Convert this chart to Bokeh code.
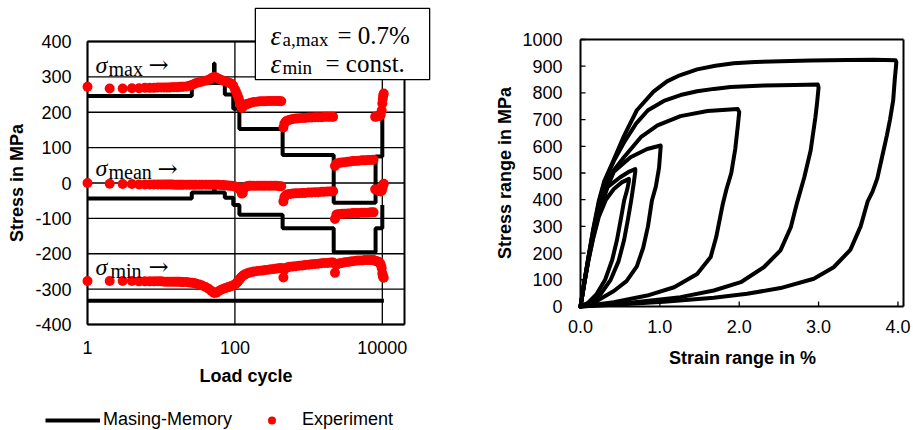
import math
from bokeh.plotting import figure
from bokeh.models import Label, Legend, LegendItem, LinearScale, Range1d
from bokeh.embed import file_html
from bokeh.resources import INLINE

# ---------------- Left chart data ----------------
x_lo, x_hi = 1, 20000          # axis limits (load cycle, log)
y_lo, y_hi = -400, 400         # axis limits (stress)
x_ticks_left = [1, 100, 10000]
x_tick_labels = ["1", "100", "10000"]
y_ticks_left = [-400, -300, -200, -100, 0, 100, 200, 300, 400]
y_tick_labels = ["-400", "-300", "-200", "-100", "0", "100", "200", "300", "400"]

mm_max_cycles = [1, 26, 52, 53, 73, 95, 115, 444, 2190, 8100, 10000]
mm_max_stress = [246, 283, 338, 283, 250, 210, 153, 79, -56, 75, 209]
mm_mean_cycles = [1, 26, 52, 53, 73, 95, 115, 444, 2190, 8100, 10000]
mm_mean_stress = [-44, -27, 0, -27, -42, -62, -90, -128, -196, -128, -62]
mm_min_cycles = [1, 10500]
mm_min_stress = [-333, -333]

exp_cycles = [1, 2, 3, 4, 5, 6, 7, 8, 9, 10,
              11, 12, 13, 14, 15, 16, 17, 18, 19, 20,
              22, 24, 26, 28, 30, 33, 36, 40, 44, 48,
              52, 56, 60, 65, 70, 75, 80, 85, 90, 95,
              100, 104, 108, 112, 116, 120, 124, 128, 135, 145,
              155, 165, 180, 200, 220, 240, 260, 285, 310, 340,
              370, 400, 425, 455, 470, 490, 520, 560, 610, 670,
              740, 820, 900, 1000, 1100, 1220, 1350, 1500, 1650, 1820,
              2000, 2150, 2280, 2380, 2500, 2650, 2850, 3100, 3400, 3700,
              4000, 4400, 4800, 5300, 5800, 6400, 7000, 7600, 8000, 8300,
              8600, 8900, 9200, 9500, 9800, 10000, 10150, 10300, 10450]

exp_max = [272, 267, 267, 268, 268, 269, 269, 269, 270, 270,
           270, 270, 270, 271, 271, 271, 271, 272, 272, 272,
           273, 275, 277, 280, 283, 285, 287, 289, 292, 296,
           300, 298, 295, 291, 289, 287, 285, 283, 280, 275,
           265, 257, 249, 240, 230, 220, 212, 215, 219, 223,
           225, 227, 229, 230, 231, 231, 231, 232, 232, 232,
           232, 232, 231, 157, 168, 174, 177, 179, 181, 182,
           183, 184, 184, 185, 185, 186, 186, 186, 187, 187,
           187, 187, 48, 54, 56, 57, 58, 59, 60, 61,
           62, 62, 63, 64, 64, 65, 65, 66, 187, 188,
           189, 190, 190, 192, 205, 225, 238, 248, 253]

exp_mean = [0, -2, -3, -3, -4, -4, -4, -4, -4, -4,
            -4, -4, -4, -4, -5, -5, -5, -5, -5, -5,
            -5, -5, -5, -5, -5, -5, -5, -5, -5, -5,
            -5, -5, -5, -6, -6, -7, -7, -8, -8, -9,
            -10, -11, -12, -14, -16, -22, -30, -28, -14, -9,
            -8, -8, -8, -8, -8, -8, -8, -8, -8, -8,
            -8, -9, -9, -52, -40, -35, -32, -31, -30, -29,
            -29, -28, -28, -27, -27, -26, -26, -25, -25, -24,
            -24, -23, -102, -90, -88, -88, -87, -87, -86, -86,
            -85, -85, -85, -84, -84, -84, -83, -83, -18, -19,
            -20, -21, -22, -24, -22, -16, -10, -5, -2]

exp_min = [-277, -277, -277, -277, -278, -278, -278, -278, -278, -278,
           -279, -279, -279, -279, -279, -279, -279, -279, -280, -280,
           -280, -281, -282, -283, -285, -287, -290, -294, -299, -305,
           -311, -310, -306, -302, -299, -297, -295, -293, -291, -289,
           -287, -284, -280, -276, -272, -268, -265, -262, -259, -256,
           -254, -252, -250, -249, -248, -247, -246, -245, -244, -243,
           -242, -241, -240, -267, -245, -240, -238, -237, -236, -235,
           -234, -233, -232, -231, -230, -229, -228, -227, -226, -226,
           -225, -225, -254, -232, -228, -227, -226, -224, -223, -222,
           -221, -220, -219, -219, -218, -218, -218, -218, -220, -221,
           -222, -223, -225, -230, -240, -255, -262, -266, -268]

# ---------------- Right chart data ----------------
s_lo, s_hi = 0, 4.07           # axis limits (strain range, %)
r_lo, r_hi = 0, 1000           # axis limits (stress range, MPa)
x_ticks_right = [0, 1, 2, 3, 4]
x_tick_labels_right = ["0.0", "1.0", "2.0", "3.0", "4.0"]
y_ticks_right = [0, 100, 200, 300, 400, 500, 600, 700, 800, 900, 1000]
y_tick_labels_right = ["0", "100", "200", "300", "400", "500", "600", "700", "800", "900", "1000"]

loop1_strain = [0, 0.05, 0.10, 0.16, 0.23, 0.32, 0.42, 0.52, 0.61,
                0.61, 0.59, 0.55, 0.51, 0.46, 0.40, 0.31, 0.20, 0.10, 0]
loop1_stress = [0, 90, 172, 255, 335, 400, 440, 465, 478,
                470, 440, 397, 330, 250, 175, 100, 45, 15, 0]

loop2_strain = [0, 0.05, 0.10, 0.16, 0.23, 0.34, 0.50, 0.60, 0.69,
                0.69, 0.67, 0.64, 0.60, 0.55, 0.48, 0.38, 0.25, 0.12, 0]
loop2_stress = [0, 90, 175, 260, 345, 447, 484, 503, 515,
                505, 460, 400, 330, 250, 170, 100, 45, 15, 0]

loop3_strain = [0, 0.05, 0.10, 0.16, 0.23, 0.30, 0.42, 0.63, 0.84, 1.01,
                1.01, 0.99, 0.95, 0.90, 0.85, 0.79, 0.71, 0.58, 0.42, 0.20, 0]
loop3_stress = [0, 92, 178, 270, 360, 420, 505, 559, 590, 603,
                597, 520, 450, 397, 300, 220, 150, 95, 58, 20, 0]

loop4_strain = [0, 0.05, 0.10, 0.16, 0.23, 0.30, 0.42, 0.55, 0.76, 0.97, 1.26, 1.60, 1.98,
                2.00, 1.98, 1.95, 1.90, 1.84, 1.79, 1.75, 1.71, 1.64, 1.47, 1.18, 0.84, 0.42, 0]
loop4_stress = [0, 93, 180, 280, 375, 440, 510, 560, 634, 678, 713, 732, 740,
                728, 670, 590, 500, 440, 380, 320, 260, 185, 122, 72, 41, 16, 0]

loop5_strain = [0, 0.05, 0.10, 0.16, 0.23, 0.30, 0.42, 0.55, 0.70, 0.85, 1.05, 1.26, 1.47,
                1.68, 1.89, 2.31, 2.70, 2.99,
                3.00, 2.98, 2.96, 2.90, 2.82, 2.73, 2.65, 2.52, 2.31, 2.02, 1.68, 1.26, 0.63, 0]
loop5_stress = [0, 95, 185, 285, 385, 465, 545, 615, 685, 735, 770, 792, 806,
                815, 822, 828, 830, 831,
                820, 760, 709, 584, 484, 390, 297, 210, 147, 91, 60, 35, 14, 0]

loop6_strain = [0, 0.05, 0.10, 0.16, 0.23, 0.30, 0.42, 0.55, 0.71, 0.92, 1.09, 1.25, 1.47,
                1.70, 1.93, 2.20, 2.52, 2.90, 3.36, 3.70, 3.97,
                3.98, 3.96, 3.94, 3.90, 3.86, 3.80, 3.74, 3.68, 3.62, 3.53, 3.40, 3.19,
                2.94, 2.52, 2.10, 1.68, 1.05, 0.42, 0]
loop6_stress = [0, 95, 185, 290, 395, 470, 550, 640, 735, 805, 843, 866, 888,
                902, 911, 916, 919, 921, 923, 924, 922,
                915, 850, 772, 700, 640, 560, 480, 430, 395, 300, 212, 147,
                104, 69, 48, 33, 18, 7, 0]

loops = [(loop1_strain, loop1_stress), (loop2_strain, loop2_stress),
         (loop3_strain, loop3_stress), (loop4_strain, loop4_stress),
         (loop5_strain, loop5_stress), (loop6_strain, loop6_stress)]

SANS = "Liberation Sans"
SERIF = "Liberation Serif"

# ---------------- Page geometry (pixels) ----------------
W, H = 913, 430
FL, FR, FT, FB = 87, 404, 41, 324      # left chart plot area
RL, RR, RT, RB = 580, 903, 39, 306     # right chart plot area

dec = (FR - FL) / (math.log10(x_hi) - math.log10(x_lo))
x_start = 10 ** (math.log10(x_lo) - FL / dec)
x_end = 10 ** (math.log10(x_hi) + (W - FR) / dec)
ppu = (FB - FT) / (y_hi - y_lo)
y_start = y_lo - (H - FB) / ppu
y_end = y_hi + FT / ppu

ppx2 = (RR - RL) / (s_hi - s_lo)
s_start = s_lo - RL / ppx2
s_end = s_hi + (W - RR) / ppx2
ppu2 = (RB - RT) / (r_hi - r_lo)
r_start = r_lo - (H - RB) / ppu2
r_end = r_hi + RT / ppu2


def sx(px):
    return px


def sy(py):
    return H - py


p = figure(width=W, height=H, x_axis_type="log",
           x_range=Range1d(x_start, x_end), y_range=Range1d(y_start, y_end),
           x_axis_location=None, y_axis_location=None,
           output_backend="svg", toolbar_location=None, min_border=0)
p.min_border_left = p.min_border_right = p.min_border_top = p.min_border_bottom = 0
p.extra_x_ranges = {"strain": Range1d(s_start, s_end)}
p.extra_x_scales = {"strain": LinearScale()}
p.extra_y_ranges = {"srange": Range1d(r_start, r_end)}
p.extra_y_scales = {"srange": LinearScale()}
p.grid.visible = False
p.outline_line_color = None
p.background_fill_color = "white"
p.border_fill_color = "white"

# ======== left chart ========
p.segment(x0=x_ticks_left, y0=[y_lo] * len(x_ticks_left), x1=x_ticks_left,
          y1=[y_hi] * len(x_ticks_left), line_color="black", line_width=1.3)
p.segment(x0=[x_lo] * len(y_ticks_left), y0=y_ticks_left, x1=[x_hi] * len(y_ticks_left),
          y1=y_ticks_left, line_color="black", line_width=1.3)
p.segment(x0=[x_lo, x_hi, x_lo, x_lo], y0=[y_lo, y_lo, y_lo, y_hi],
          x1=[x_lo, x_hi, x_hi, x_hi], y1=[y_hi, y_hi, y_lo, y_hi],
          line_color="black", line_width=2)

r_mm = p.step(mm_max_cycles, mm_max_stress, mode="after", line_color="black", line_width=4)
p.step(mm_mean_cycles, mm_mean_stress, mode="after", line_color="black", line_width=4)
p.line(mm_min_cycles, mm_min_stress, line_color="black", line_width=4)

r_exp = p.scatter(exp_cycles, exp_max, size=10, fill_color="#FF0000", line_color=None)
p.scatter(exp_cycles, exp_mean, size=10, fill_color="#FF0000", line_color=None)
p.scatter(exp_cycles, exp_min, size=10, fill_color="#FF0000", line_color=None)

# ======== right chart ========
p.segment(x0=[s_lo, s_hi, s_lo, s_lo], y0=[r_lo, r_lo, r_lo, r_hi],
          x1=[s_lo, s_hi, s_hi, s_hi], y1=[r_hi, r_hi, r_lo, r_hi],
          x_range_name="strain", y_range_name="srange", line_color="black", line_width=2)
tick_len_y = 5 / ppu2
tick_len_x = 5 / ppx2
p.segment(x0=x_ticks_right, y0=[r_lo] * len(x_ticks_right), x1=x_ticks_right,
          y1=[r_lo + tick_len_y] * len(x_ticks_right),
          x_range_name="strain", y_range_name="srange", line_color="black", line_width=1.3)
p.segment(x0=[s_lo] * len(y_ticks_right), y0=y_ticks_right,
          x1=[s_lo + tick_len_x] * len(y_ticks_right), y1=y_ticks_right,
          x_range_name="strain", y_range_name="srange", line_color="black", line_width=1.3)
for s, t in loops:
    p.line(s, t, x_range_name="strain", y_range_name="srange",
           line_color="black", line_width=4, line_join="round", line_cap="round")


# ======== texts ========
def text_label(text, x, y, x_units="screen", y_units="screen", align="center",
               baseline="middle", size="18px", style="normal", font=SANS, angle=0,
               level="annotation", **kw):
    p.add_layout(Label(x=x, y=y, x_units=x_units, y_units=y_units, text=text,
                       text_font=font, text_font_size=size, text_font_style=style,
                       text_color="black", text_align=align, text_baseline=baseline,
                       angle=angle, level=level, **kw))


for t, txt in zip(x_ticks_left, x_tick_labels):
    text_label(txt, t, sy(347), x_units="data")
for t, txt in zip(y_ticks_left, y_tick_labels):
    text_label(txt, sx(71), t, y_units="data", align="right")
text_label("Load cycle", sx(245.5), sy(375.5), style="bold")
text_label("Stress in MPa", sx(16), sy(182.5), style="bold", angle=math.pi / 2)

for t, txt in zip(x_ticks_right, x_tick_labels_right):
    text_label(txt, t, sy(326), x_units="data", x_range_name="strain")
for t, txt in zip(y_ticks_right, y_tick_labels_right):
    text_label(txt, sx(562), t, y_units="data", align="right", y_range_name="srange")
text_label("Strain range in %", sx(742), sy(357.5), style="bold")
text_label("Stress range in MPa", sx(504), sy(172.5), style="bold", angle=math.pi / 2)


def lab(px, py, text, size, style="normal", font=SERIF, level="annotation"):
    text_label(text, sx(px), sy(py), align="left", baseline="alphabetic", size=size,
               style=style, font=font, level=level)


# sigma labels
lab(95, 64, "σ", "24px", "italic")
lab(108, 68, "max", "20px")
lab(148, 64, "→", "24px", font="DejaVu Serif")
lab(95, 167, "σ", "24px", "italic")
lab(108, 171, "mean", "20px")
lab(157, 168, "→", "24px", font="DejaVu Serif")
lab(95, 266, "σ", "24px", "italic")
lab(110, 270, "min", "20px")
lab(148, 266, "→", "24px", font="DejaVu Serif")

# annotation box
p.add_layout(Label(x=sx(342), y=sy(43.5), x_units="screen", y_units="screen", text=" ",
                   text_font_size="1px", text_align="center", text_baseline="middle",
                   padding=dict(left=87, right=87, top=35, bottom=35),
                   border_line_color="black", border_line_width=1.3,
                   background_fill_color="white", level="overlay"))
lab(270, 35, "ε", "27px", "italic", level="overlay")
lab(282, 39, "a,max", "19px", level="overlay")
lab(337, 35, "= 0.7%", "25px", level="overlay")
lab(270, 63, "ε", "27px", "italic", level="overlay")
lab(282, 67, "min", "19px", level="overlay")
lab(325, 63, "= const.", "25px", level="overlay")

legend = Legend(items=[LegendItem(label="Masing-Memory", renderers=[r_mm]),
                       LegendItem(label="Experiment", renderers=[r_exp])],
                location=(sx(45), 0), orientation="horizontal",
                glyph_width=55, glyph_height=20, label_height=20, label_standoff=3,
                spacing=12, padding=0, margin=0, border_line_color=None,
                background_fill_alpha=0, label_text_font=SANS,
                label_text_font_size="18px", label_text_color="black")
p.add_layout(legend)

open("out.html", "w").write(file_html(p, INLINE))
